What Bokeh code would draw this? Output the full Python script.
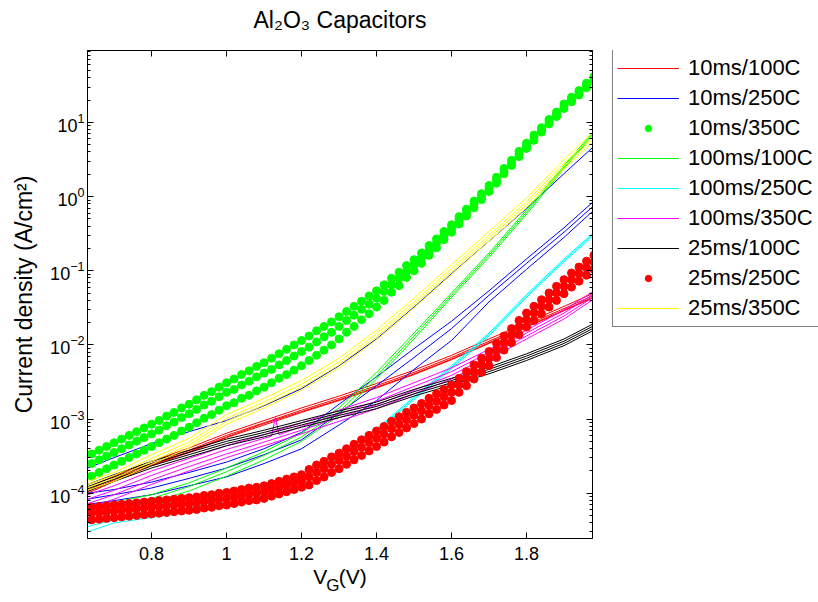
from bokeh.plotting import figure
from bokeh.layouts import row
from bokeh.models import (Range1d, LinearAxis, LogAxis, FixedTicker, Legend,
                          LegendItem, CustomJSTickFormatter, LogTickFormatter)
from bokeh.embed import file_html
from bokeh.resources import INLINE

FONT = "Liberation Sans"

# ---------------- data (log10 of current density, A/cm^2) ----------------
TITLE = "Al\u2082O\u2083 Capacitors"
Y_LABEL = "Current density (A/cm\u00b2)"
X_LABEL_MAIN = "V\u00a0\u00a0(V)"
X_LABEL_SUB = "G\u00a0\u00a0\u00a0"

X_TICKS = [0.8, 1.0, 1.2, 1.4, 1.6, 1.8]
X_TICK_LABELS = ["0.8", "1", "1.2", "1.4", "1.6", "1.8"]
Y_TICKS = [1e-4, 1e-3, 1e-2, 1e-1, 1e0, 1e1]

X_LINE = [0.63, 0.70, 0.80, 0.90, 1.00, 1.10, 1.20, 1.30, 1.40, 1.50, 1.60, 1.70, 1.80, 1.90, 1.98]
X_SPIKE = [0.63, 0.70, 0.80, 0.90, 1.00, 1.10, 1.12, 1.13, 1.14, 1.20, 1.30, 1.40, 1.50, 1.60, 1.70, 1.80, 1.90, 1.98]
X_DOT = [0.64, 0.66, 0.68, 0.70, 0.72, 0.74, 0.76, 0.78, 0.80, 0.82, 0.84, 0.86, 0.88, 0.90,
         0.92, 0.94, 0.96, 0.98, 1.00, 1.02, 1.04, 1.06, 1.08, 1.10, 1.12, 1.14, 1.16, 1.18,
         1.20, 1.22, 1.24, 1.26, 1.28, 1.30, 1.32, 1.34, 1.36, 1.38, 1.40, 1.42, 1.44, 1.46,
         1.48, 1.50, 1.52, 1.54, 1.56, 1.58, 1.60, 1.62, 1.64, 1.66, 1.68, 1.70, 1.72, 1.74,
         1.76, 1.78, 1.80, 1.82, 1.84, 1.86, 1.88, 1.90, 1.92, 1.94, 1.96, 1.98]

# 10ms/100C (red lines)
r10_100_a = [-3.92, -3.77, -3.57, -3.39, -3.19, -3.02, -2.85, -2.69, -2.52, -2.34, -2.14, -1.92, -1.70, -1.48, -1.30]
r10_100_b = [-3.96, -3.80, -3.60, -3.42, -3.22, -3.05, -2.88, -2.72, -2.55, -2.37, -2.17, -1.95, -1.73, -1.51, -1.33]
r10_100_c = [-4.00, -3.84, -3.63, -3.45, -3.25, -3.08, -2.91, -2.75, -2.58, -2.40, -2.20, -1.98, -1.76, -1.54, -1.36]
r10_100_d = [-3.98, -3.82, -3.62, -3.44, -3.24, -3.06, -2.90, -2.74, -2.57, -2.39, -2.19, -1.97, -1.75, -1.53, -1.35]

# 10ms/250C (blue lines)
b10_250_a = [-3.66, -3.52, -3.33, -3.17, -3.02, -2.82, -2.59, -2.28, -1.92, -1.49, -1.04, -0.60, -0.16, 0.31, 0.68]
b10_250_b = [-4.00, -3.95, -3.85, -3.72, -3.58, -3.40, -3.18, -2.80, -2.43, -2.05, -1.68, -1.27, -0.84, -0.42, -0.06]
b10_250_c = [-4.08, -4.02, -3.93, -3.80, -3.66, -3.48, -3.28, -2.92, -2.55, -2.17, -1.78, -1.33, -0.90, -0.48, -0.12]
b10_250_d = [-4.15, -4.10, -4.02, -3.90, -3.78, -3.60, -3.40, -3.08, -2.75, -2.33, -1.94, -1.42, -0.98, -0.55, -0.18]

# 10ms/350C (green dots)
g10_350_a = [-3.47, -3.42, -3.37, -3.32, -3.27, -3.22, -3.17, -3.12, -3.07,
             -3.02, -2.96, -2.91, -2.85, -2.80, -2.74, -2.68, -2.63, -2.57, -2.51,
             -2.46, -2.40, -2.35, -2.29, -2.24, -2.18, -2.12, -2.06, -2.00, -1.94,
             -1.88, -1.81, -1.75, -1.69, -1.62, -1.55, -1.48, -1.41, -1.34, -1.27,
             -1.19, -1.10, -1.02, -0.93, -0.85, -0.76, -0.66, -0.57, -0.47, -0.38,
             -0.27, -0.17, -0.06, 0.04, 0.15, 0.26, 0.38, 0.49, 0.61, 0.72,
             0.83, 0.93, 1.04, 1.14, 1.25, 1.34, 1.43, 1.53, 1.62]
g10_350_b = [-3.60, -3.55, -3.50, -3.45, -3.40, -3.35, -3.30, -3.25, -3.20,
             -3.15, -3.09, -3.04, -2.98, -2.93, -2.87, -2.81, -2.76, -2.70, -2.64,
             -2.60, -2.54, -2.49, -2.43, -2.38, -2.33, -2.27, -2.21, -2.15, -2.09,
             -2.03, -1.96, -1.89, -1.83, -1.75, -1.67, -1.60, -1.52, -1.45, -1.37,
             -1.28, -1.19, -1.10, -1.01, -0.92, -0.82, -0.72, -0.62, -0.52, -0.43,
             -0.31, -0.21, -0.10, 0.00, 0.11, 0.22, 0.34, 0.45, 0.57, 0.68,
             0.80, 0.90, 1.01, 1.11, 1.22, 1.31, 1.40, 1.50, 1.59]
g10_350_c = [-3.77, -3.72, -3.67, -3.62, -3.57, -3.52, -3.47, -3.42, -3.37,
             -3.32, -3.27, -3.22, -3.16, -3.11, -3.05, -2.99, -2.94, -2.88, -2.82,
             -2.78, -2.72, -2.68, -2.62, -2.57, -2.51, -2.45, -2.40, -2.34, -2.28,
             -2.21, -2.14, -2.07, -2.00, -1.92, -1.83, -1.75, -1.66, -1.58, -1.49,
             -1.40, -1.29, -1.20, -1.09, -1.00, -0.90, -0.79, -0.69, -0.58, -0.48,
             -0.37, -0.26, -0.15, -0.04, 0.07, 0.18, 0.31, 0.42, 0.54, 0.65,
             0.76, 0.87, 0.98, 1.08, 1.19, 1.28, 1.37, 1.47, 1.56]

# 100ms/100C (green lines)
g100_100_a = [-4.20, -4.12, -4.02, -3.86, -3.66, -3.44, -3.19, -2.85, -2.37, -1.84, -1.30, -0.76, -0.18, 0.42, 0.88]
g100_100_b = [-4.25, -4.17, -4.07, -3.91, -3.71, -3.49, -3.24, -2.90, -2.42, -1.88, -1.33, -0.79, -0.21, 0.40, 0.86]
g100_100_c = [-4.30, -4.22, -4.12, -3.97, -3.77, -3.55, -3.30, -2.95, -2.46, -1.92, -1.36, -0.82, -0.24, 0.38, 0.84]

# 100ms/250C (cyan lines)
c100_250_a = [-4.40, -4.32, -4.27, -4.19, -4.09, -3.97, -3.78, -3.48, -3.13, -2.70, -2.28, -1.84, -1.32, -0.84, -0.48]
c100_250_b = [-4.45, -4.36, -4.30, -4.22, -4.12, -4.00, -3.80, -3.50, -3.15, -2.72, -2.30, -1.86, -1.34, -0.86, -0.50]
c100_250_c = [-4.52, -4.40, -4.33, -4.25, -4.15, -4.03, -3.83, -3.53, -3.17, -2.74, -2.32, -1.88, -1.36, -0.88, -0.52]

# 100ms/350C (magenta lines); curve b has a spike, sampled on X_SPIKE
m100_350_a = [-4.02, -3.90, -3.70, -3.53, -3.36, -3.21, -3.05, -2.88, -2.71, -2.51, -2.31, -2.06, -1.80, -1.53, -1.27]
m100_350_b = [-4.08, -3.96, -3.76, -3.58, -3.41, -3.26, -3.23, -2.98, -3.21, -3.10, -2.93, -2.76, -2.56, -2.36, -2.10, -1.84, -1.57, -1.31]
m100_350_c = [-4.14, -4.02, -3.82, -3.64, -3.47, -3.31, -3.15, -2.98, -2.81, -2.61, -2.41, -2.15, -1.88, -1.61, -1.35]
m100_350_d = [-4.20, -4.08, -3.88, -3.70, -3.52, -3.36, -3.20, -3.03, -2.86, -2.66, -2.46, -2.19, -1.92, -1.65, -1.38]

# 25ms/100C (black lines)
k25_100_a = [-3.88, -3.75, -3.57, -3.42, -3.27, -3.15, -3.02, -2.89, -2.77, -2.60, -2.45, -2.30, -2.12, -1.92, -1.71]
k25_100_b = [-3.91, -3.78, -3.60, -3.45, -3.30, -3.18, -3.05, -2.92, -2.80, -2.63, -2.48, -2.33, -2.15, -1.95, -1.74]
k25_100_c = [-3.94, -3.81, -3.63, -3.48, -3.33, -3.21, -3.08, -2.95, -2.83, -2.66, -2.51, -2.36, -2.18, -1.98, -1.77]
k25_100_d = [-3.97, -3.84, -3.66, -3.51, -3.36, -3.24, -3.11, -2.98, -2.86, -2.69, -2.54, -2.39, -2.21, -2.01, -1.80]

# 25ms/250C (red dots)
r25_250_a = [-4.19, -4.18, -4.17, -4.16, -4.15, -4.14, -4.13, -4.12, -4.11,
             -4.10, -4.09, -4.08, -4.07, -4.06, -4.05, -4.03, -4.02, -4.00, -3.99,
             -3.97, -3.95, -3.93, -3.92, -3.90, -3.87, -3.84, -3.81, -3.78, -3.75,
             -3.68, -3.62, -3.57, -3.51, -3.46, -3.40, -3.34, -3.28, -3.22, -3.16,
             -3.10, -3.03, -2.97, -2.91, -2.85, -2.79, -2.72, -2.66, -2.60, -2.54,
             -2.45, -2.36, -2.27, -2.18, -2.09, -1.98, -1.88, -1.78, -1.67, -1.57,
             -1.48, -1.39, -1.30, -1.21, -1.12, -1.03, -0.95, -0.87, -0.79]
r25_250_b = [-4.27, -4.26, -4.25, -4.24, -4.23, -4.22, -4.21, -4.20, -4.19,
             -4.18, -4.17, -4.16, -4.15, -4.14, -4.13, -4.11, -4.10, -4.08, -4.07,
             -4.05, -4.03, -4.01, -4.00, -3.98, -3.95, -3.92, -3.89, -3.86, -3.83,
             -3.78, -3.72, -3.67, -3.61, -3.56, -3.50, -3.44, -3.38, -3.32, -3.26,
             -3.20, -3.13, -3.07, -3.01, -2.95, -2.89, -2.82, -2.76, -2.70, -2.64,
             -2.54, -2.45, -2.36, -2.27, -2.18, -2.07, -1.97, -1.87, -1.76, -1.66,
             -1.57, -1.48, -1.39, -1.30, -1.21, -1.12, -1.04, -0.96, -0.88]
r25_250_c = [-4.36, -4.35, -4.34, -4.33, -4.32, -4.31, -4.30, -4.29, -4.28,
             -4.27, -4.26, -4.25, -4.24, -4.23, -4.22, -4.20, -4.19, -4.17, -4.16,
             -4.14, -4.12, -4.10, -4.09, -4.07, -4.04, -4.01, -3.98, -3.95, -3.92,
             -3.89, -3.83, -3.78, -3.72, -3.67, -3.61, -3.55, -3.49, -3.43, -3.37,
             -3.31, -3.24, -3.18, -3.12, -3.06, -3.00, -2.93, -2.87, -2.81, -2.75,
             -2.64, -2.55, -2.46, -2.37, -2.28, -2.17, -2.07, -1.97, -1.86, -1.76,
             -1.67, -1.58, -1.49, -1.40, -1.31, -1.22, -1.14, -1.06, -0.98]

# 25ms/350C (yellow lines)
y25_350_a = [-3.84, -3.72, -3.48, -3.26, -2.94, -2.72, -2.48, -2.18, -1.80, -1.37, -0.92, -0.47, -0.02, 0.50, 0.88]
y25_350_b = [-3.88, -3.76, -3.53, -3.31, -2.99, -2.77, -2.53, -2.23, -1.85, -1.42, -0.97, -0.52, -0.07, 0.45, 0.83]
y25_350_c = [-3.92, -3.80, -3.57, -3.35, -3.03, -2.81, -2.57, -2.27, -1.89, -1.46, -1.01, -0.56, -0.11, 0.41, 0.79]
y25_350_d = [-3.96, -3.84, -3.61, -3.39, -3.07, -2.85, -2.61, -2.31, -1.93, -1.50, -1.05, -0.60, -0.15, 0.37, 0.75]

SERIES = [
    ("10ms/100C", "#FF0000", "line", [(X_LINE, r10_100_a), (X_LINE, r10_100_b), (X_LINE, r10_100_c), (X_LINE, r10_100_d)]),
    ("10ms/250C", "#0000FF", "line", [(X_LINE, b10_250_a), (X_LINE, b10_250_b), (X_LINE, b10_250_c), (X_LINE, b10_250_d)]),
    ("10ms/350C", "#00FF00", "dot", [(X_DOT, g10_350_a), (X_DOT, g10_350_b), (X_DOT, g10_350_c)]),
    ("100ms/100C", "#00FF00", "line", [(X_LINE, g100_100_a), (X_LINE, g100_100_b), (X_LINE, g100_100_c)]),
    ("100ms/250C", "#00FFFF", "line", [(X_LINE, c100_250_a), (X_LINE, c100_250_b), (X_LINE, c100_250_c)]),
    ("100ms/350C", "#FF00FF", "line", [(X_LINE, m100_350_a), (X_SPIKE, m100_350_b), (X_LINE, m100_350_c), (X_LINE, m100_350_d)]),
    ("25ms/100C", "#000000", "line", [(X_LINE, k25_100_a), (X_LINE, k25_100_b), (X_LINE, k25_100_c), (X_LINE, k25_100_d)]),
    ("25ms/250C", "#FF0000", "dot", [(X_DOT, r25_250_a), (X_DOT, r25_250_b), (X_DOT, r25_250_c)]),
    ("25ms/350C", "#FFFF00", "line", [(X_LINE, y25_350_a), (X_LINE, y25_350_b), (X_LINE, y25_350_c), (X_LINE, y25_350_d)]),
]

# ---------------- main plot ----------------
p = figure(width=600, height=602, output_backend="svg", toolbar_location=None,
           y_axis_type="log", x_range=Range1d(0.629, 1.976), y_range=Range1d(2.45e-5, 93.5),
           min_border_left=87, min_border_right=8, min_border_top=50, min_border_bottom=64,
           background_fill_color="white", border_fill_color="white",
           outline_line_color="black", outline_line_width=1)
p.xgrid.visible = False
p.ygrid.visible = False
p.title.visible = False

Y_MINOR = [k * 10.0 ** e for e in range(-5, 2) for k in range(2, 10)]
EMPTY = CustomJSTickFormatter(code="return ''")

xa = p.xaxis[0]
xa.ticker = FixedTicker(ticks=X_TICKS)
xa.major_label_overrides = {t: s for t, s in zip(X_TICKS, X_TICK_LABELS)}
xa.axis_label = X_LABEL_MAIN
xa.axis_label_standoff = 2
ya = p.yaxis[0]
ya.ticker = FixedTicker(ticks=Y_TICKS, minor_ticks=Y_MINOR)
ya.formatter = LogTickFormatter()
ya.axis_label = Y_LABEL
ya.axis_label_standoff = 10

# top axis carries the chart title as its label
top = LinearAxis(ticker=FixedTicker(ticks=X_TICKS), formatter=EMPTY, axis_label=TITLE)
right = LogAxis(ticker=FixedTicker(ticks=Y_TICKS, minor_ticks=Y_MINOR), formatter=EMPTY)
p.add_layout(top, "above")
p.add_layout(right, "right")

for ax in [xa, top]:
    ax.major_tick_in = 6
    ax.major_tick_out = 0
    ax.minor_tick_in = 0
    ax.minor_tick_out = 0
for ax in [ya, right]:
    ax.major_tick_in = 6
    ax.major_tick_out = 0
    ax.minor_tick_in = 3
    ax.minor_tick_out = 0
for ax in [xa, ya, top, right]:
    ax.axis_line_color = "black"
    ax.major_tick_line_color = "black"
    ax.minor_tick_line_color = "black"
    ax.major_label_text_font = FONT
    ax.major_label_text_font_size = "18px"
    ax.major_label_text_color = "black"
    ax.axis_label_text_font = FONT
    ax.axis_label_text_font_style = "normal"
    ax.axis_label_text_color = "black"
xa.axis_label_text_font_size = "21px"
ya.axis_label_text_font_size = "23px"
top.axis_label_text_font_size = "23px"
top.axis_label_standoff = 18
xa.major_label_standoff = 8
ya.major_label_standoff = 3
for ax in [top, right]:
    ax.major_label_text_font_size = "0px"
    ax.major_label_standoff = 0

# subscript "G" of the x label, carried by a tick-less axis below the main one
sub = LinearAxis(ticker=FixedTicker(ticks=[]), formatter=EMPTY, axis_label=X_LABEL_SUB,
                 axis_line_color=None, major_tick_line_color=None, minor_tick_line_color=None,
                 major_label_text_font_size="0px", major_label_standoff=0,
                 axis_label_standoff=-15, axis_label_text_font=FONT,
                 axis_label_text_font_size="17px", axis_label_text_font_style="normal",
                 axis_label_text_color="black")
p.add_layout(sub, "below")

for name, color, kind, curves in SERIES:
    for xs, logs in curves:
        ys = [10.0 ** v for v in logs]
        if kind == "line":
            p.line(xs, ys, line_color=color, line_width=1)
        else:
            p.scatter(xs, ys, marker="circle", size=8, fill_color=color, line_color=color)

# ---------------- legend panel (to the right of the axes box) ----------------
# the legend keys are drawn by renderers of the same series, kept outside this panel's view
leg = figure(width=218, height=602, output_backend="svg", toolbar_location=None,
             x_range=Range1d(100, 101), y_range=Range1d(100, 101), min_border=0,
             x_axis_location=None, y_axis_location=None,
             background_fill_color="white", border_fill_color="white", outline_line_color=None)
leg.grid.visible = False
leg.title.visible = False
items = []
for name, color, kind, curves in SERIES:
    xs, logs = curves[0]
    ys = [10.0 ** v for v in logs]
    if kind == "line":
        r = leg.line(xs, ys, line_color=color, line_width=1)
    else:
        r = leg.scatter(xs, ys, marker="circle", size=8, fill_color=color, line_color=color)
    items.append(LegendItem(label=name, renderers=[r]))

legend = Legend(items=items, location=(12, 211), padding=4, spacing=1, margin=0,
                label_height=29, glyph_height=16, glyph_width=62, label_standoff=9,
                label_width=150, label_text_font=FONT, label_text_font_size="22px",
                label_text_color="black", border_line_color="black", border_line_width=1,
                background_fill_color="white", background_fill_alpha=1.0)
leg.add_layout(legend)

layout = row(p, leg, spacing=0)
open("out.html", "w").write(file_html(layout, INLINE))
